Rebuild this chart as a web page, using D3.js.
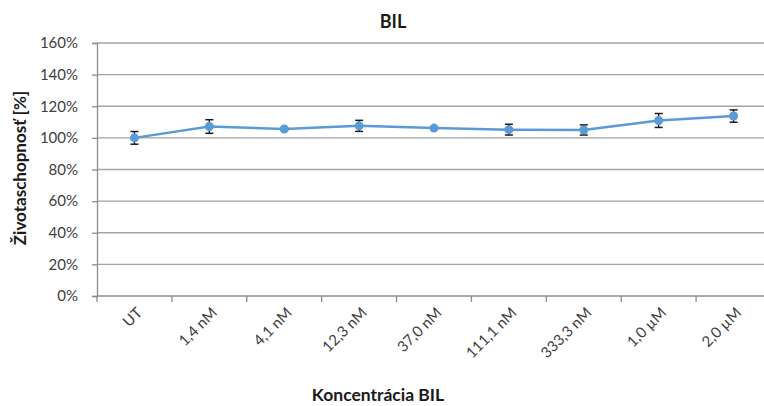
<!DOCTYPE html>
<html><head><meta charset="utf-8">
<script src="https://cdn.jsdelivr.net/npm/d3@7"></script>
<style>html,body{margin:0;padding:0;background:#fff;overflow:hidden}</style>
</head><body>
<svg id="chart" width="764" height="406"></svg>
<script>
const categories = ["UT","1,4 nM","4,1 nM","12,3 nM","37,0 nM","111,1 nM","333,3 nM","1,0 µM","2,0 µM"];
const values = [100, 107.2, 105.6, 107.6, 106.2, 105.2, 105.0, 111.0, 113.8];
const errors = [4.0, 4.3, 0.6, 3.5, 0.6, 3.4, 3.2, 4.4, 3.9];
const yTicks = [0,20,40,60,80,100,120,140,160];
const chartTitle = "BIL";
const xTitle = "Koncentrácia BIL";
const yTitle = "Životaschopnosť [%]";

(function(){
const svg = d3.select("#chart");
const pLeft = 97, pRight = 771, pTop = 43, pBottom = 296;
const font = "Lato, 'Open Sans', sans-serif";

const x = d3.scaleBand().domain(categories).range([pLeft, pRight]).paddingInner(0).paddingOuter(0);
const y = d3.scaleLinear().domain([0,160]).range([pBottom, pTop]);

// gridlines
svg.append("g").selectAll("line").data(yTicks.filter(d=>d>0)).join("line")
  .attr("x1", pLeft).attr("x2", pRight)
  .attr("y1", d=>y(d)).attr("y2", d=>y(d))
  .attr("stroke", "#a3a3a3").attr("stroke-width", 1.3);

// y axis
const yAxis = svg.append("g").attr("transform", `translate(${pLeft},0)`)
  .call(d3.axisLeft(y).tickValues(yTicks).tickFormat(d=>d+"%").tickSize(5).tickPadding(14));
yAxis.select(".domain").attr("stroke", "#8c8c8c").attr("stroke-width", 1.3);
yAxis.selectAll(".tick line").attr("stroke", "#8c8c8c").attr("stroke-width", 1.3);
yAxis.selectAll("text").attr("font-family", font).attr("font-size", 15).attr("fill", "#404040");

// x axis line and boundary ticks
svg.append("line").attr("x1", pLeft).attr("x2", pRight).attr("y1", pBottom).attr("y2", pBottom)
  .attr("stroke", "#8c8c8c").attr("stroke-width", 1.3);
const bounds = categories.map(c => x(c)).concat([x(categories[categories.length-1]) + x.bandwidth()]);
svg.append("g").selectAll("line").data(bounds).join("line")
  .attr("x1", d=>d).attr("x2", d=>d).attr("y1", pBottom).attr("y2", pBottom+6)
  .attr("stroke", "#8c8c8c").attr("stroke-width", 1.3);

// x tick labels
svg.append("g").selectAll("text").data(categories).join("text")
  .attr("transform", d => `translate(${x(d)+x.bandwidth()/2+5},${pBottom+14}) rotate(-45)`)
  .attr("text-anchor", "end").attr("dy", "0.35em")
  .attr("font-family", font).attr("font-size", 15).attr("fill", "#404040")
  .text(d=>d);

// line
const cx = d => x(d) + x.bandwidth()/2;
const data = categories.map((c,i)=>({c, v: values[i], e: errors[i]}));
svg.append("path").datum(data)
  .attr("d", d3.line().x(d=>cx(d.c)).y(d=>y(d.v)))
  .attr("fill", "none").attr("stroke", "#5b9bd5").attr("stroke-width", 2.5);

// error bars
const eb = svg.append("g").selectAll("g").data(data).join("g");
eb.append("line").attr("x1", d=>cx(d.c)).attr("x2", d=>cx(d.c))
  .attr("y1", d=>y(d.v-d.e)).attr("y2", d=>y(d.v+d.e))
  .attr("stroke", "#1a1a1a").attr("stroke-width", 1.3);
eb.selectAll("line.cap").data(d=>[{c:d.c,yy:d.v-d.e},{c:d.c,yy:d.v+d.e}]).join("line")
  .attr("class","cap")
  .attr("x1", d=>cx(d.c)-4).attr("x2", d=>cx(d.c)+4)
  .attr("y1", d=>y(d.yy)).attr("y2", d=>y(d.yy))
  .attr("stroke", "#1a1a1a").attr("stroke-width", 1.5);

// markers
svg.append("g").selectAll("circle").data(data).join("circle")
  .attr("cx", d=>cx(d.c)).attr("cy", d=>y(d.v)).attr("r", 4.5)
  .attr("fill", "#5b9bd5");

// titles
svg.append("text").attr("x", 393).attr("y", 28).attr("text-anchor", "middle")
  .attr("font-family", font).attr("font-weight", "bold").attr("font-size", 18).attr("fill", "#1a1a1a")
  .text(chartTitle);
svg.append("text").attr("x", 378).attr("y", 401).attr("text-anchor", "middle")
  .attr("font-family", font).attr("font-weight", "bold").attr("font-size", 17.5).attr("fill", "#1a1a1a")
  .text(xTitle);
svg.append("text").attr("transform", "translate(26,168) rotate(-90)").attr("text-anchor", "middle")
  .attr("font-family", font).attr("font-weight", "bold").attr("font-size", 17).attr("fill", "#1a1a1a")
  .text(yTitle);
})();
</script>
</body></html>
